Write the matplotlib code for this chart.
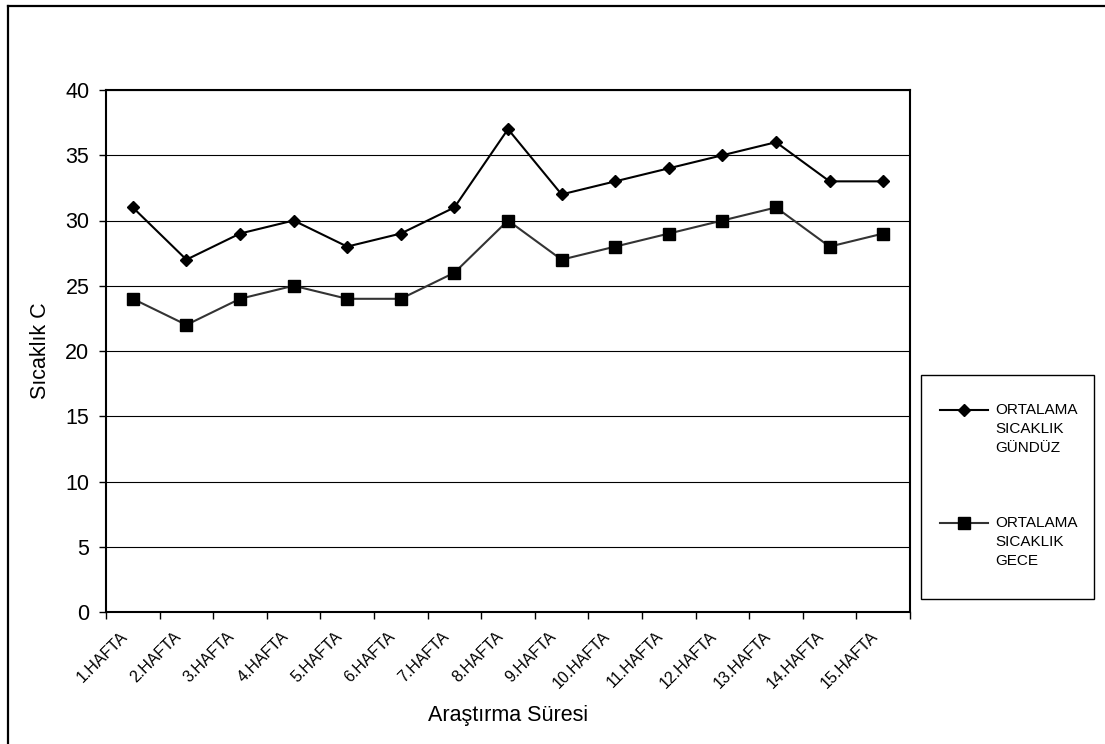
import matplotlib
matplotlib.use("Agg")
import matplotlib.pyplot as plt
import matplotlib.transforms as mtransforms
import numpy as np
from matplotlib.lines import Line2D
from matplotlib.patches import Rectangle

plt.rcParams['font.family'] = ['Liberation Sans', 'DejaVu Sans']

weeks = ['%d.HAFTA' % i for i in range(1, 16)]
gunduz = [31, 27, 29, 30, 28, 29, 31, 37, 32, 33, 34, 35, 36, 33, 33]
gece = [24, 22, 24, 25, 24, 24, 26, 30, 27, 28, 29, 30, 31, 28, 29]
series_labels = ['ORTALAMA\nSICAKLIK\nGÜNDÜZ', 'ORTALAMA\nSICAKLIK\nGECE']

W, H = 1105, 744
fig = plt.figure(figsize=(W / 100, H / 100), dpi=100)
ax = fig.add_axes([106 / W, 1 - 612 / H, 804 / W, 522 / H])


def px(x, y):
    """pixel position (from top-left) -> figure fraction"""
    return x / W, 1 - y / H


# outer chart frame, top and left edges
fig.add_artist(Line2D([8 / W, 1.0], [1 - 6 / H] * 2, color='black', lw=1.6,
                      transform=fig.transFigure))
fig.add_artist(Line2D([8 / W] * 2, [0.0, 1 - 6 / H], color='black', lw=1.6,
                      transform=fig.transFigure))

styles = [
    dict(color='black', linewidth=1.5, marker='D', markersize=6.5),
    dict(color='#333333', linewidth=1.5, marker='s', markersize=8.7,
         markerfacecolor='black', markeredgecolor='black'),
]

x = np.arange(len(weeks))
ax.plot(x, gunduz, **styles[0])
ax.plot(x, gece, **styles[1])

ax.set_xlim(-0.5, len(weeks) - 0.5)
ax.set_ylim(0, 40)
ax.set_yticks(np.arange(0, 41, 5))
ax.yaxis.grid(True, color='black', linewidth=0.8)
ax.set_axisbelow(True)

# category labels centred, ticks at category boundaries
ax.set_xticks(x)
ax.set_xticklabels(weeks, rotation=45, ha='right', rotation_mode='anchor',
                   fontsize=11.5)
ax.set_xticks(np.arange(-0.5, len(weeks)), minor=True)
ax.tick_params(axis='x', which='major', length=0, pad=12)
ax.tick_params(axis='x', which='minor', length=5, width=1, direction='out')
ax.tick_params(axis='y', length=5, width=1, direction='out', labelsize=15.5, pad=7)

# nudge the slanted labels left so they end just under each category
offset = mtransforms.ScaledTranslation(-13 / 100, 0, fig.dpi_scale_trans)
for lbl in ax.xaxis.get_majorticklabels():
    lbl.set_transform(lbl.get_transform() + offset)

for s in ax.spines.values():
    s.set_linewidth(1.5)

ax.set_ylabel('Sıcaklık C', fontsize=15.5, labelpad=10)
ax.set_xlabel('Araştırma Süresi', fontsize=15.5, labelpad=10)

# legend box drawn by hand: handle sits on the first text line
fig.add_artist(Rectangle(px(921, 599), 173 / W, 224 / H, transform=fig.transFigure,
                         fill=False, edgecolor='black', linewidth=1))
for label, style, y in zip(series_labels, styles, [410, 523]):
    x0, y0 = px(940, y)
    x1, _ = px(988, y)
    fig.add_artist(Line2D([x0, x1], [y0, y0], transform=fig.transFigure,
                          **{**style, 'marker': None}))
    fig.add_artist(Line2D([(x0 + x1) / 2], [y0], transform=fig.transFigure,
                          linestyle='none', **{k: v for k, v in style.items()
                                               if k != 'linewidth'}))
    tx, ty = px(995, y - 7)
    fig.text(tx, ty, label, fontsize=11, va='top', ha='left', linespacing=1.45)

fig.savefig('out.png', dpi=100)
